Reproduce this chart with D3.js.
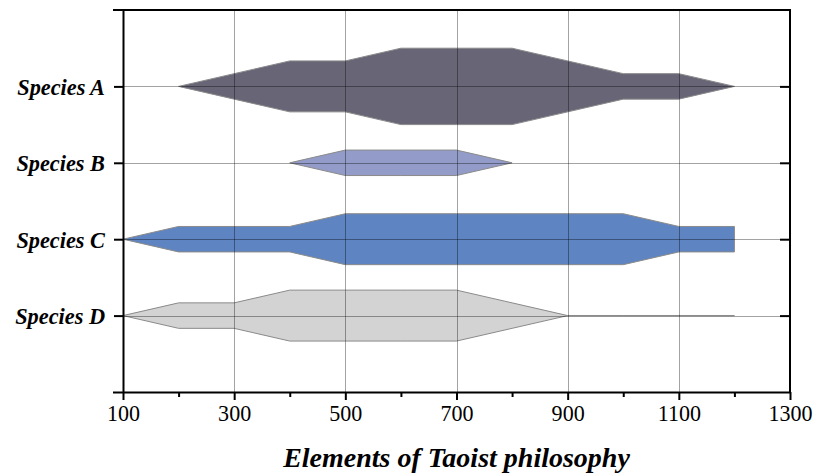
<!DOCTYPE html>
<html>
<head>
<meta charset="utf-8">
<script src="https://cdn.jsdelivr.net/npm/d3@7"></script>
<style>
  html, body { margin: 0; padding: 0; background: #fff; }
  svg { display: block; }
</style>
</head>
<body>
<svg id="chart" width="813" height="475"></svg>
<script>
// ---- data ----
const species = ["Species A", "Species B", "Species C", "Species D"];
const xValuesA = [200, 300, 400, 500, 600, 700, 800, 900, 1000, 1100, 1200];
const widthsA  = [0,   1,   2,   2,   3,   3,   3,   2,   1,    1,    0];
const xValuesB = [400, 500, 600, 700, 800];
const widthsB  = [0,   1,   1,   1,   0];
const xValuesC = [100, 200, 300, 400, 500, 600, 700, 800, 900, 1000, 1100, 1200];
const widthsC  = [0,   1,   1,   1,   2,   2,   2,   2,   2,   2,    1,    1];
const xValuesD = [100, 200, 300, 400, 500, 600, 700, 800, 900, 1000, 1100, 1200];
const widthsD  = [0,   1,   1,   2,   2,   2,   2,   1,   0,   0,    0,    0];
const colors = ["#676576", "#939cc8", "#5f84c2", "#d3d3d3"];
const xTicks = [100, 300, 500, 700, 900, 1100, 1300];
const xMinorTicks = [200, 400, 600, 800, 1000, 1200];
const xTitle = "Elements of Taoist philosophy";

const seriesX = [xValuesA, xValuesB, xValuesC, xValuesD];
const seriesW = [widthsA, widthsB, widthsC, widthsD];

// ---- layout ----
const L = 123, R = 790, T = 10, B = 392;
const svg = d3.select("#chart");
const FONT = "'Liberation Serif', 'Times New Roman', serif";

const x = d3.scaleLinear().domain([100, 1300]).range([L, R]);
const y = d3.scalePoint().domain(species).range([T, B]).padding(1);
const w = d3.scaleLinear().domain([0, 3]).range([0, y.step() / 2]);

// polygons
species.forEach((s, i) => {
  const xs = seriesX[i], ws = seriesW[i];
  const pts = xs.map((v, j) => [x(v), y(s) - w(ws[j])]);
  for (let j = xs.length - 1; j >= 0; j--) pts.push([x(xs[j]), y(s) + w(ws[j])]);
  svg.append("path")
    .attr("d", d3.line()(pts) + "Z")
    .attr("fill", colors[i])
    .attr("stroke", "#8a8a8a")
    .attr("stroke-width", 1);
});

// grid (on top, semi transparent)
const grid = svg.append("g").attr("stroke", "#000").attr("stroke-opacity", 0.36).attr("stroke-width", 1);
xTicks.slice(1, -1).forEach(t => {
  grid.append("line").attr("x1", Math.round(x(t)) + 0.5).attr("x2", Math.round(x(t)) + 0.5)
    .attr("y1", T).attr("y2", B);
});
species.forEach(s => {
  grid.append("line").attr("x1", L).attr("x2", R)
    .attr("y1", Math.round(y(s)) + 0.5).attr("y2", Math.round(y(s)) + 0.5);
});

// axes
const axisColor = "#000";
// bottom axis
const bottom = svg.append("g").attr("transform", `translate(0,${B})`);
bottom.call(d3.axisBottom(x).tickValues(xTicks).tickSize(8).tickSizeOuter(0).tickFormat(d3.format("d")));
bottom.append("g").call(d3.axisBottom(x).tickValues(xMinorTicks).tickSize(5).tickFormat(""))
  .select(".domain").remove();
bottom.select(".domain").attr("d", `M${L - 10},0.5H${R}`);
bottom.selectAll("line").attr("stroke-width", 2).attr("stroke", axisColor);
bottom.select(".domain").attr("stroke-width", 2).attr("stroke", axisColor);
const sxTick = 0.92;
bottom.selectAll("text")
  .attr("font-family", FONT)
  .attr("font-size", 24).attr("fill", "#000")
  .attr("y", 9).attr("dy", "0.85em")
  .attr("transform", `scale(${sxTick},1)`);

// left axis
const left = svg.append("g").attr("transform", `translate(${L},0)`);
left.call(d3.axisLeft(y).tickSize(9).tickSizeOuter(0).tickPadding(9));
left.select(".domain").attr("d", `M0.5,${T}V${B}`).attr("stroke-width", 2).attr("stroke", axisColor);
left.selectAll("line").attr("stroke-width", 2).attr("stroke", axisColor);
const sxLab = 0.93;
left.selectAll("text")
  .attr("font-family", FONT)
  .attr("font-weight", "bold").attr("font-style", "italic")
  .attr("font-size", 24).attr("fill", "#000")
  .attr("x", -18 / sxLab).attr("dy", "0.34em")
  .attr("transform", `scale(${sxLab},1)`);

// right axis (inward ticks)
const right = svg.append("g").attr("transform", `translate(${R},0)`);
right.call(d3.axisLeft(y).tickSize(10).tickSizeOuter(0).tickFormat(""));
right.select(".domain").attr("d", `M0,${T}V${B}`).attr("stroke-width", 2).attr("stroke", axisColor);
right.selectAll("line").attr("stroke-width", 2).attr("stroke", axisColor);

// top border
svg.append("line").attr("x1", L - 10).attr("x2", R + 1).attr("y1", T).attr("y2", T)
  .attr("stroke", axisColor).attr("stroke-width", 2);

// x title
svg.append("text")
  .attr("x", (L + R) / 2).attr("y", 467)
  .attr("text-anchor", "middle")
  .attr("font-family", FONT)
  .attr("font-weight", "bold").attr("font-style", "italic")
  .attr("font-size", 28).attr("fill", "#000")
  .text(xTitle);
</script>
</body>
</html>
